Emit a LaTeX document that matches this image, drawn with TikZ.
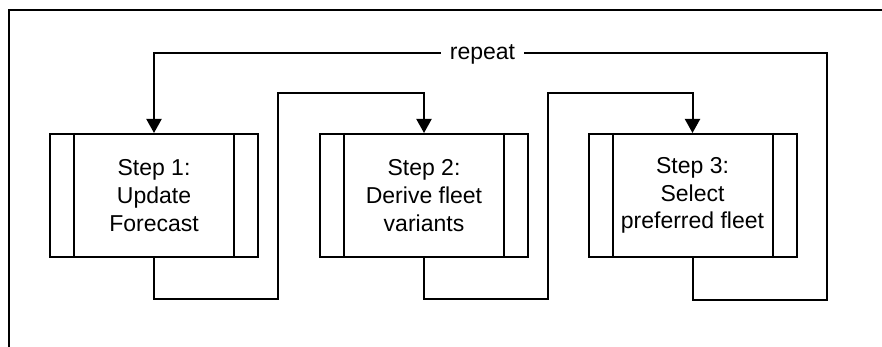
\documentclass[tikz,border=0pt]{standalone}
\usepackage{fontspec}
\setmainfont{Liberation Sans}
\usetikzlibrary{arrows.meta}
\begin{document}
\begin{tikzpicture}[x=1pt,y=-1pt,
  line width=2pt,
  stepbox/.style={draw, line width=2pt, minimum width=208pt, minimum height=123pt,
    inner sep=0pt, align=center, font=\fontsize{23}{27.8}\selectfont},
  flow/.style={line width=2pt, -{Triangle[length=14pt,width=15pt]}},
  tag/.style={font=\fontsize{23}{27.8}\selectfont, fill=white, inner xsep=9pt, inner ysep=2pt}]
  \useasboundingbox (0,0) rectangle (882,347);
  % frame (left and top edges)
  \draw[line width=2pt] (9,347) -- (9,10) -- (882,10);
  % process steps
  \node[stepbox] (s1) at (154,195.5) {Step 1:\\Update\\Forecast};
  \node[stepbox] (s2) at (424,195.5) {Step 2:\\Derive fleet\\variants};
  \node[stepbox] (s3) at (692.5,195.5) {Step 3:\\Select\\preferred fleet};
  % side bars of the predefined-process boxes
  \foreach \s in {s1,s2,s3}{
    \draw ([xshift=25pt]\s.north west) -- ([xshift=25pt]\s.south west);
    \draw ([xshift=-25pt]\s.north east) -- ([xshift=-25pt]\s.south east);
  }
  % connectors
  \coordinate (a1) at (278,299);
  \coordinate (a2) at (278,93);
  \draw[flow] (s1.south) |- (a1) -- (a2) -| (s2.north);
  \coordinate (b1) at (548,299);
  \coordinate (b2) at (548,93);
  \draw[flow] (s2.south) |- (b1) -- (b2) -| (s3.north);
  % feedback loop
  \coordinate (c1) at (827,300);
  \coordinate (c2) at (827,53);
  \draw[flow] (s3.south) |- (c1) -- (c2) -| (s1.north);
  \node[tag, anchor=base] (rep) at (482.5,59.5) {repeat};
\end{tikzpicture}
\end{document}
